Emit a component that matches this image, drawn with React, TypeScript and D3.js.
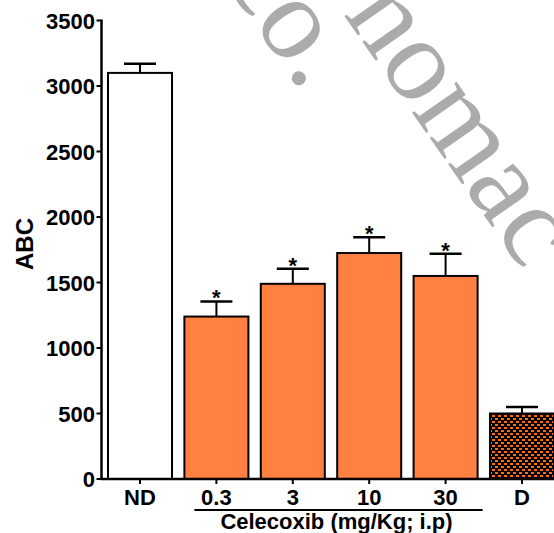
import React from "react";
import * as d3 from "d3";

const categories = ["ND", "0.3", "3", "10", "30", "D"];
const means = [3100, 1240, 1490, 1725, 1550, 500];
const sems = [70, 115, 115, 120, 170, 50];
const significant = [false, true, true, true, true, false];
const yTicks = [0, 500, 1000, 1500, 2000, 2500, 3000, 3500];
const yLabel = "ABC";
const groupLabel = "Celecoxib (mg/Kg; i.p)";
const watermarkA = "co.";
const watermarkB = "nomac";

const W = 554;
const H = 533;
const ORANGE = "#FF8040";
const FONT = "'Liberation Sans', Arial, Helvetica, sans-serif";

export default function App() {
  const y = d3.scaleLinear().domain([0, 3500]).range([479, 20.5]);
  const x = d3
    .scaleBand<string>()
    .domain(categories)
    .range([108, 554])
    .paddingInner(0.162)
    .paddingOuter(0);
  const bw = x.bandwidth();
  const axisX = 101.5;
  const y0 = y(0);

  const fillFor = (i: number) =>
    i === 0 ? "#ffffff" : i === categories.length - 1 ? "url(#checks)" : ORANGE;

  const ulStart = (x("0.3") as number) + 10;
  const ulEnd = (x("30") as number) + bw + 5;

  return (
    <svg
      width={W}
      height={H}
      style={{ position: "absolute", left: 0, top: 0, background: "#fff" }}
    >
      <defs>
        <pattern id="checks" width={6} height={6} patternUnits="userSpaceOnUse">
          <rect width={6} height={6} fill="#000" />
          <rect x={0} y={1} width={3} height={2} fill="#FF6A10" />
          <rect x={3} y={4} width={3} height={2} fill="#FF6A10" />
        </pattern>
      </defs>

      {/* watermark */}
      <g fill="#ababab" fontFamily="'Liberation Serif', 'Times New Roman', serif" fontSize={118}>
        <text transform={`translate(222,-22) rotate(55)`}>{watermarkA}</text>
        <text transform={`translate(343,14) rotate(55)`}>{watermarkB}</text>
      </g>

      {/* bars */}
      {categories.map((c, i) => {
        const bx = x(c) as number;
        const top = y(means[i]);
        const cap = y(means[i] + sems[i]);
        const cx = bx + bw / 2;
        return (
          <g key={c}>
            <line x1={cx} x2={cx} y1={top} y2={cap} stroke="#000" strokeWidth={2} />
            <line x1={cx - bw / 4} x2={cx + bw / 4} y1={cap} y2={cap} stroke="#000" strokeWidth={2.5} />
            <rect
              x={bx}
              y={top}
              width={bw}
              height={y0 - top}
              fill={fillFor(i)}
              stroke="#000"
              strokeWidth={2}
            />
            {significant[i] && (
              <text
                x={cx}
                y={cap + 4}
                textAnchor="middle"
                fontFamily={FONT}
                fontWeight="bold"
                fontSize={22}
              >
                *
              </text>
            )}
          </g>
        );
      })}

      {/* y axis */}
      <line x1={axisX} x2={axisX} y1={y(3500) - 1} y2={y0 + 1} stroke="#000" strokeWidth={2.5} />
      {yTicks.map((t) => (
        <g key={t}>
          <line x1={axisX - 5} x2={axisX} y1={y(t)} y2={y(t)} stroke="#000" strokeWidth={2} />
          <text
            x={95}
            y={y(t) + 8}
            textAnchor="end"
            fontFamily={FONT}
            fontWeight="bold"
            fontSize={22}
          >
            {t}
          </text>
        </g>
      ))}
      <text
        transform={`translate(33,244) rotate(-90)`}
        textAnchor="middle"
        fontFamily={FONT}
        fontWeight="bold"
        fontSize={24}
      >
        {yLabel}
      </text>

      {/* x axis */}
      <line x1={axisX - 1} x2={W} y1={y0} y2={y0} stroke="#000" strokeWidth={2.5} />
      {categories.map((c) => {
        const cx = (x(c) as number) + bw / 2;
        return (
          <g key={c}>
            <line x1={cx} x2={cx} y1={y0} y2={y0 + 5} stroke="#000" strokeWidth={2} />
            <text
              x={cx}
              y={505}
              textAnchor="middle"
              fontFamily={FONT}
              fontWeight="bold"
              fontSize={22}
            >
              {c}
            </text>
          </g>
        );
      })}
      <line x1={ulStart} x2={ulEnd} y1={510} y2={510} stroke="#000" strokeWidth={2} />
      <text
        x={(ulStart + ulEnd) / 2 - 2}
        y={529}
        textAnchor="middle"
        fontFamily={FONT}
        fontWeight="bold"
        fontSize={22}
      >
        {groupLabel}
      </text>
    </svg>
  );
}
